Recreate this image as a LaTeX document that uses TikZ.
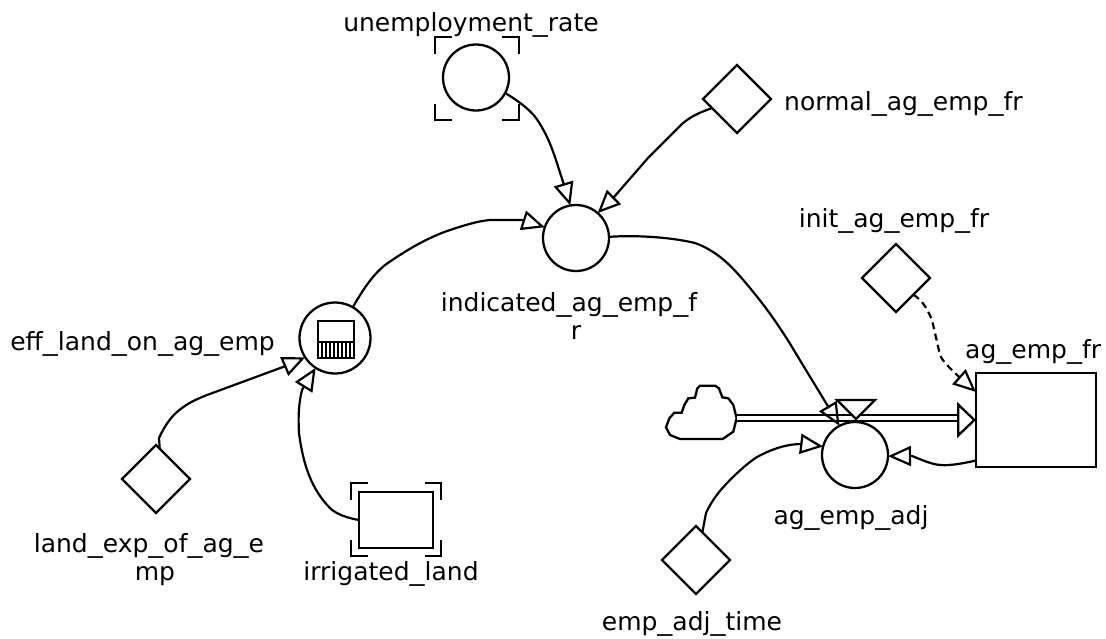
\documentclass[tikz,border=0pt]{standalone}
\usepackage{fontspec}
\setmainfont{DejaVu Sans}
\usetikzlibrary{arrows.meta,shapes.geometric}
\newcommand{\us}{\scalebox{1.2}[1]{\_}}
\tikzset{
  shapeline/.style={draw=black,line width=2.3pt,fill=white,inner sep=0pt,outer sep=0pt},
  auxnode/.style={shapeline,circle,minimum size=66pt},
  constnode/.style={shapeline,diamond,aspect=1,minimum width=68pt,minimum height=68pt},
  lab/.style={font=\fontsize{25}{28}\selectfont,inner sep=0pt,align=center,anchor=base},
  link/.style={draw=black,line width=2.2pt,-{Triangle[open,length=23pt,width=20pt,line width=2.2pt]}},
  dashlink/.style={link,dash pattern=on 7pt off 4.5pt},
  ghost/.style={draw=black,line width=2.2pt},
}
\begin{document}
\begin{tikzpicture}[x=1pt,y=-1pt]
\useasboundingbox (0,0) rectangle (1106,638);
\node[auxnode] (unemp) at (476,77.5) {};
\node[auxnode] (ind) at (576,238) {};
\node[constnode] (normal) at (737,99) {};
\node[constnode] (init) at (896,278) {};
\node[constnode] (time) at (696,560) {};
\node[constnode] (land) at (156,479) {};
\node[shapeline,minimum width=120pt,minimum height=94pt] (stock) at (1036,420) {};
\node[auxnode] (adj) at (855,455) {};
\node[shapeline,circle,minimum size=71pt] (eff) at (335,338) {};
\node[shapeline,minimum width=74pt,minimum height=56pt] (irr) at (396,520) {};
% ghost brackets
\draw[ghost] (435,54)--(435,37)--(452,37) (502,37)--(519,37)--(519,54)
             (435,104)--(435,120)--(452,120) (502,120)--(519,120)--(519,104);
\draw[ghost] (351,500)--(351,483)--(368,483) (425,483)--(441,483)--(441,500)
             (351,540)--(351,556)--(368,556) (425,556)--(441,556)--(441,540);
% graphical function icon
\draw[line width=2.2pt,fill=white] (318,321) rectangle (354,358);
\draw[line width=2.2pt] (318,342)--(354,342);
\foreach \i in {322,326,330,334,338,342,346,350}
  \draw[line width=1.7pt] (\i,342)--(\i,358);
% cloud
\begin{scope}[shift={(640,340)},x=0.3333pt,y=-0.3333pt]
\draw[shapeline] (78,262)--(88,235)--(103,218)--(125,218)--(133,195)--(145,175)--(165,173)--(172,145)--(180,137)--(225,137)--(237,145)--(247,172)--(265,175)--(280,195)--(290,235)--(280,275)--(248,297)--(120,297)--(90,285)--cycle;
\end{scope}
\coordinate (cloud) at (737,418);
\coordinate (flowtip) at (958,418);
% flow
\draw[line width=2.3pt,double,double distance=4pt] (cloud) -- (flowtip);
\draw[line width=2.3pt,-{Triangle[open,length=19pt,width=36pt,line width=2.3pt]}] (957,420) -- (stock.west);
% valve
\draw[shapeline] (837,400)--(875,400)--(856,419)--cycle;
% connectors
\draw[link] (unemp.-28) .. controls (520,102) and (530,110) .. (536,118) .. controls (546,132) and (552,148) .. (556,160) -- (564,185) -- (ind.100);
\draw[link] (normal.200) .. controls (698,113) and (690,117) .. (682,124) -- (648,158) -- (614,197) -- (ind.49);
\draw[link] (eff.60) .. controls (364,288) and (372,276) .. (385,265) .. controls (405,251) and (425,239) .. (447,231) .. controls (465,225) and (478,221) .. (490,220) -- (522,220) -- (ind.161);
\draw[link] (ind.2) .. controls (635,235) and (670,237) .. (695,243) .. controls (720,252) and (735,270) .. (750,288) .. controls (770,312) and (785,335) .. (795,352) -- (829,408) -- (adj.118);
\draw[link] (land.83) -- (159,438) .. controls (165,425) and (172,415) .. (182,408) .. controls (190,402) and (197,399) .. (207,395) -- (283,367) -- (eff.213);
\draw[link] (irr.180) .. controls (342,517) and (334,512) .. (330,508) .. controls (312,490) and (303,465) .. (299,433) .. controls (298,415) and (299,402) .. (302,390) -- (eff.237);
\draw[dashlink] (init.-44) .. controls (922,300) and (927,308) .. (932,320) -- (940,355) .. controls (943,362) and (950,368) .. (957,375) -- (stock.155);
\draw[link] (stock.214) .. controls (965,463) and (950,466) .. (940,465) .. controls (930,464) and (920,459) .. (912,456) -- (adj.-2);
\draw[link] (time.77) -- (706,513) .. controls (712,500) and (720,490) .. (730,480) .. controls (740,470) and (748,463) .. (757,457) .. controls (770,450) and (785,444) .. (802,444) -- (adj.165);
% labels
\node[lab] (l1) at (471,31) {unemployment\us rate};
\node[lab,anchor=base west] (l2) at (784,110) {normal\us ag\us emp\us fr};
\node[lab] (l3) at (569,311) {indicated\us ag\us emp\us f};
\node[lab] (l3b) at (576,339) {r};
\node[lab,anchor=base east] (l4) at (275,350) {eff\us land\us on\us ag\us emp};
\node[lab] (l5) at (149,552) {land\us exp\us of\us ag\us e};
\node[lab] (l5b) at (155,580) {mp};
\node[lab] (l6) at (391,580) {irrigated\us land};
\node[lab] (l7) at (894,227) {init\us ag\us emp\us fr};
\node[lab,anchor=base west] (l8) at (965,358) {ag\us emp\us fr};
\node[lab] (l9) at (851,524) {ag\us emp\us adj};
\node[lab] (l10) at (692,630) {emp\us adj\us time};
\end{tikzpicture}
\end{document}
